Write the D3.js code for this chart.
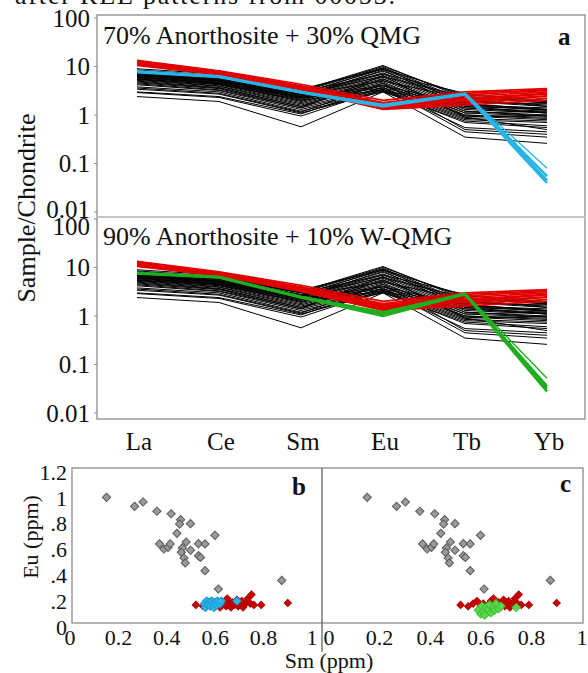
<!DOCTYPE html>
<html>
<head>
<meta charset="utf-8">
<script src="https://cdnjs.cloudflare.com/ajax/libs/d3/7.8.5/d3.min.js"></script>
<style>
  body { margin: 0; background: #fff; }
  svg text { font-family: "Liberation Serif", "Times New Roman", serif; fill: #111; }
</style>
</head>
<body>
<div id="chart"></div>
<script>
// element order on the spider diagrams
var elements = ["La", "Ce", "Sm", "Eu", "Tb", "Yb"];
var decadeTicks = [0.01, 0.1, 1, 10, 100];

// anorthosite REE patterns (black), values normalised to chondrite
var anorthosite = [
  [8.5, 6.5, 3.2, 10.5, 2.2, 1.8],
  [8.0, 6.2, 3.0, 9.5, 2.0, 1.6],
  [7.6, 5.9, 2.8, 8.8, 1.9, 1.5],
  [7.2, 5.6, 2.6, 8.0, 1.8, 1.7],
  [7.0, 5.4, 2.5, 7.4, 1.6, 1.4],
  [6.8, 5.2, 2.4, 7.0, 1.5, 1.3],
  [6.6, 5.0, 2.3, 6.5, 1.4, 1.2],
  [6.4, 4.8, 2.2, 6.0, 1.3, 1.1],
  [6.2, 4.6, 2.1, 5.6, 1.2, 1.0],
  [6.0, 4.5, 2.0, 5.2, 1.1, 0.95],
  [5.8, 4.4, 1.9, 4.8, 1.0, 0.9],
  [5.6, 4.2, 1.8, 4.5, 1.1, 1.2],
  [5.4, 4.0, 1.7, 4.2, 1.0, 0.85],
  [5.2, 3.9, 1.6, 4.0, 0.95, 0.8],
  [5.0, 3.7, 1.5, 3.6, 0.9, 1.0],
  [4.6, 3.5, 1.4, 3.4, 0.85, 0.75],
  [4.2, 3.2, 1.3, 3.2, 0.8, 0.7],
  [3.8, 3.0, 1.2, 3.0, 0.75, 0.6],
  [3.4, 2.7, 1.1, 3.1, 0.7, 0.55],
  [2.9, 2.3, 0.95, 3.4, 0.55, 0.45],
  [2.4, 1.9, 0.57, 3.0, 0.35, 0.26],
  [9.0, 7.0, 3.4, 9.0, 2.6, 2.0],
  [8.2, 6.4, 3.1, 10.0, 2.4, 1.9],
  [7.8, 6.0, 3.0, 7.0, 2.8, 1.9],
  [7.4, 5.8, 2.7, 6.2, 2.4, 1.75],
  [6.9, 5.3, 2.6, 5.0, 2.2, 1.5],
  [6.5, 5.0, 2.3, 4.0, 1.7, 1.3],
  [6.0, 4.7, 2.2, 3.6, 1.6, 1.25],
  [5.5, 4.3, 2.0, 3.3, 1.4, 1.1],
  [4.8, 3.6, 1.5, 5.5, 1.2, 0.95],
  [4.4, 3.3, 1.4, 6.5, 0.9, 0.5],
  [3.6, 2.8, 1.15, 4.5, 0.5, 0.4],
  [3.0, 2.4, 1.05, 3.8, 0.45, 0.35],
  [7.3, 5.7, 2.7, 9.2, 1.7, 1.3],
  [6.7, 5.1, 2.4, 8.4, 1.5, 1.1]
];

// QMG patterns (red)
var qmg = [
  [13.5, 8.2, 4.3, 2.0, 3.0, 3.5],
  [13.0, 8.0, 4.0, 1.8, 2.8, 3.3],
  [12.5, 7.8, 3.9, 1.7, 2.6, 3.2],
  [12.2, 7.6, 3.8, 1.6, 2.4, 3.0],
  [12.0, 7.5, 3.6, 1.55, 2.2, 2.8],
  [11.6, 7.3, 3.5, 1.5, 2.1, 2.7],
  [11.2, 7.1, 3.4, 1.45, 2.0, 2.5],
  [11.0, 7.0, 3.3, 1.4, 1.9, 2.4],
  [10.8, 6.9, 3.25, 1.35, 1.75, 2.2],
  [10.5, 6.8, 3.2, 1.3, 1.6, 2.0]
];

// mixtures: 70% anorthosite + 30% QMG (cyan), 90% anorthosite + 10% W-QMG (green)
var mixQMG = [
  [8.0, 6.3, 3.0, 1.55, 2.7, 0.045],
  [7.6, 6.1, 2.9, 1.5, 2.65, 0.04],
  [7.8, 6.2, 2.95, 1.6, 2.75, 0.055],
  [7.9, 6.3, 3.05, 1.65, 2.8, 0.08]
];
var mixWQMG = [
  [7.8, 6.4, 2.5, 1.2, 2.9, 0.032],
  [7.5, 6.2, 2.4, 1.0, 2.8, 0.028],
  [7.6, 6.3, 2.45, 1.1, 2.85, 0.036],
  [7.7, 6.3, 2.5, 1.15, 2.9, 0.052]
];

// Sm vs Eu (ppm) scatter data
var anoSm = [0.151, 0.267, 0.302, 0.359, 0.418, 0.457, 0.453, 0.498, 0.442, 0.599, 0.370, 0.388, 0.405, 0.414,
             0.480, 0.464, 0.460, 0.498, 0.531, 0.558, 0.531, 0.539, 0.471, 0.476, 0.558, 0.613, 0.875];
var anoEu = [0.973, 0.903, 0.937, 0.865, 0.846, 0.800, 0.766, 0.769, 0.694, 0.679, 0.612, 0.573, 0.586, 0.612,
             0.627, 0.581, 0.547, 0.563, 0.614, 0.612, 0.521, 0.508, 0.503, 0.465, 0.405, 0.263, 0.330];
var qmgSm = [0.52, 0.55, 0.57, 0.585, 0.60, 0.61, 0.62, 0.63, 0.64, 0.645, 0.65, 0.66, 0.665, 0.67,
             0.68, 0.69, 0.695, 0.70, 0.71, 0.715, 0.72, 0.73, 0.735, 0.745, 0.75, 0.76, 0.79, 0.90];
var qmgEu = [0.14, 0.13, 0.15, 0.17, 0.13, 0.15, 0.12, 0.14, 0.17, 0.13, 0.19, 0.15, 0.12, 0.16,
             0.14, 0.18, 0.13, 0.15, 0.17, 0.12, 0.14, 0.16, 0.19, 0.15, 0.22, 0.14, 0.14, 0.155];
var cyanSm = [0.555, 0.56, 0.565, 0.57, 0.575, 0.58, 0.585, 0.59, 0.595, 0.60, 0.605, 0.61, 0.62, 0.625, 0.69];
var cyanEu = [0.15, 0.12, 0.17, 0.14, 0.16, 0.13, 0.17, 0.15, 0.12, 0.16, 0.14, 0.17, 0.15, 0.17, 0.17];
var greenSm = [0.59, 0.60, 0.605, 0.61, 0.615, 0.62, 0.63, 0.635, 0.64, 0.65, 0.655, 0.66, 0.67, 0.68, 0.74];
var greenEu = [0.10, 0.07, 0.13, 0.09, 0.06, 0.12, 0.10, 0.14, 0.08, 0.12, 0.10, 0.15, 0.11, 0.13, 0.12];
var smTicks = [0, 0.2, 0.4, 0.6, 0.8, 1];
var euTicks = [0, 0.2, 0.4, 0.6, 0.8, 1, 1.2];

var width = 588, height = 673;
var frameCol = "#8c8c8c";

var svg = d3.select("#chart").append("svg")
  .attr("width", width)
  .attr("height", height);

// caption line of the page above, cut by the top edge
svg.append("text")
  .attr("x", 15).attr("y", 4)
  .attr("font-size", 26)
  .attr("textLength", 380)
  .text("after REE patterns from 00053.");

// ---------- top: spider diagrams ----------
var x = d3.scalePoint().domain(elements).range([137, 547]);
var yA = d3.scaleLog().domain([0.01, 100]).range([212, 18]);
var yB = d3.scaleLog().domain([0.01, 100]).range([413, 219]);

svg.append("rect")
  .attr("x", 97).attr("y", 15).attr("width", 488).attr("height", 404)
  .attr("fill", "none").attr("stroke", frameCol).attr("stroke-width", 1.3);
svg.append("line")
  .attr("x1", 97).attr("x2", 585).attr("y1", 217).attr("y2", 217)
  .attr("stroke", "#c4c4c4").attr("stroke-width", 2);

function spider(y, mix, mixColor, title, nudge) {
  var g = svg.append("g");
  var line = d3.line()
    .x(function(d, i) { return x(elements[i]) })
    .y(function(d) { return y(d) });

  g.selectAll(".ano").data(anorthosite).enter().append("path")
    .attr("d", line).attr("fill", "none")
    .attr("stroke", "#000").attr("stroke-width", 1);

  g.selectAll(".qmg").data(qmg).enter().append("path")
    .attr("d", line).attr("fill", "none")
    .attr("stroke", "#e00000").attr("stroke-width", 1.6);

  g.selectAll(".mix").data(mix).enter().append("path")
    .attr("d", line).attr("fill", "none")
    .attr("stroke", mixColor)
    .attr("stroke-width", function(d, i) { return i === mix.length - 1 ? 1.3 : 2.6 });

  // decade labels and little ticks
  g.selectAll(".yl").data(decadeTicks).enter().append("text")
    .attr("x", 90).attr("y", function(d) { return y(d) + nudge(d) })
    .attr("dy", "0.35em")
    .attr("text-anchor", "end")
    .attr("font-size", 25)
    .text(function(d) { return d3.format("~g")(d) });
  g.selectAll(".yt").data(decadeTicks).enter().append("line")
    .attr("x1", 94).attr("x2", 97)
    .attr("y1", function(d) { return y(d) }).attr("y2", function(d) { return y(d) })
    .attr("stroke", frameCol);

  g.append("text")
    .attr("x", 103).attr("y", y(100) + 26)
    .attr("font-size", 26)
    .text(title);
}

// the "0.01" of the upper panel and the "100" of the lower one sit close together
spider(yA, mixQMG, "#27b4e6", "70% Anorthosite + 30% QMG",
  function(d) { return d === 0.01 ? -3 : 0 });
spider(yB, mixWQMG, "#1fae1f", "90% Anorthosite + 10% W-QMG",
  function(d) { return d === 100 ? 7 : 0 });

svg.append("text").attr("x", 558).attr("y", 45)
  .attr("font-size", 25).attr("font-weight", "bold").text("a");

svg.selectAll(".xl").data(elements).enter().append("text")
  .attr("x", function(d) { return x(d) + 2 })
  .attr("y", 450)
  .attr("text-anchor", "middle")
  .attr("font-size", 25)
  .text(function(d) { return d });

svg.append("text")
  .attr("transform", "translate(35,208) rotate(-90)")
  .attr("text-anchor", "middle")
  .attr("font-size", 26)
  .text("Sample/Chondrite");

// ---------- bottom: Sm vs Eu ----------
var xb = d3.scaleLinear().domain([0, 1]).range([70, 312]);
var xc = d3.scaleLinear().domain([0, 1]).range([329, 582]);
var ys = d3.scaleLinear().domain([0, 1.2]).range([623, 468]);

svg.append("rect")
  .attr("x", 72).attr("y", 468).attr("width", 511).attr("height", 155)
  .attr("fill", "none").attr("stroke", frameCol).attr("stroke-width", 1.3);
svg.append("line")
  .attr("x1", 322).attr("x2", 322).attr("y1", 468).attr("y2", 652)
  .attr("stroke", "#555").attr("stroke-width", 1.2);

var diamond = d3.symbol().type(d3.symbolSquare);

function scatter(xs, smArr, euArr, fill, stroke, size) {
  svg.append("g").selectAll("path")
    .data(smArr).enter().append("path")
    .attr("d", diamond.size(size)())
    .attr("transform", function(d, i) {
      return "translate(" + xs(d) + "," + ys(euArr[i]) + ") rotate(45)"
    })
    .attr("fill", fill)
    .attr("stroke", stroke)
    .attr("stroke-width", 1);
}

scatter(xb, anoSm, anoEu, "#9a9a9a", "#5a5a5a", 34);
scatter(xb, qmgSm, qmgEu, "#c80000", "#b00000", 26);
scatter(xb, cyanSm, cyanEu, "#2bb5ea", "#1c9fd6", 34);

scatter(xc, anoSm, anoEu, "#9a9a9a", "#5a5a5a", 34);
scatter(xc, qmgSm, qmgEu, "#c80000", "#b00000", 26);
scatter(xc, greenSm, greenEu, "#5bd84a", "#3fc23a", 34);

[xb, xc].forEach(function(xs) {
  svg.append("g").selectAll("text")
    .data(smTicks).enter().append("text")
    .attr("x", function(d) { return xs(d) })
    .attr("y", 645)
    .attr("text-anchor", "middle")
    .attr("font-size", 22)
    .text(function(d) { return d3.format("~g")(d) });
});

svg.append("g").selectAll("text")
  .data(euTicks).enter().append("text")
  .attr("x", 67)
  .attr("y", function(d) { return ys(d) + 4 })
  .attr("dy", "0.35em")
  .attr("text-anchor", "end")
  .attr("font-size", 22)
  .text(function(d) { return d === 0 ? "0" : d3.format("~g")(d).replace(/^0/, "") });

svg.append("text").attr("x", 292).attr("y", 495)
  .attr("font-size", 25).attr("font-weight", "bold").text("b");
svg.append("text").attr("x", 560).attr("y", 492)
  .attr("font-size", 25).attr("font-weight", "bold").text("c");

svg.append("text")
  .attr("transform", "translate(38,537) rotate(-90)")
  .attr("text-anchor", "middle")
  .attr("font-size", 22)
  .text("Eu (ppm)");

svg.append("text")
  .attr("x", 329).attr("y", 668)
  .attr("text-anchor", "middle")
  .attr("font-size", 22)
  .text("Sm (ppm)");
</script>
</body>
</html>
